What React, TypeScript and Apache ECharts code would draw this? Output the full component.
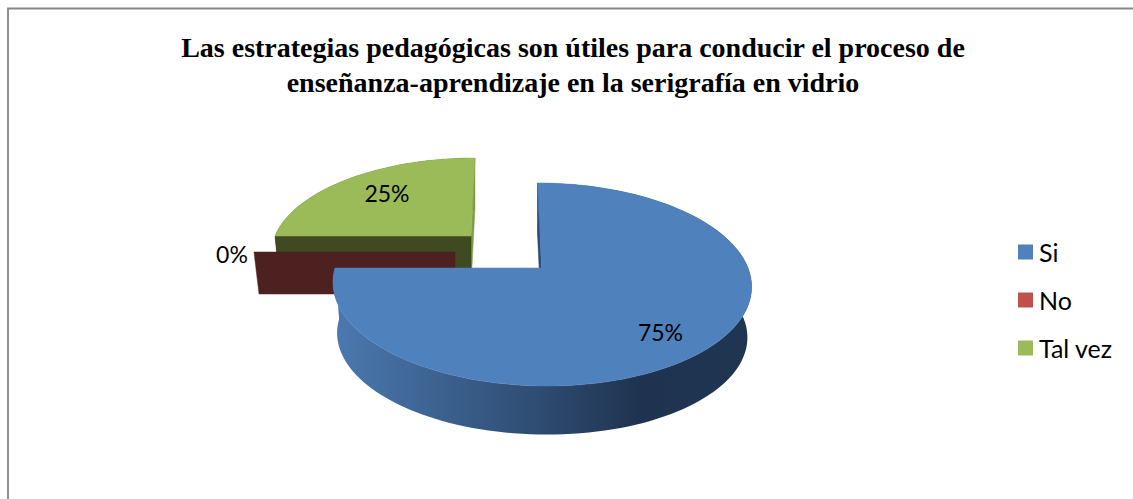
import React, { useEffect, useRef } from "react";
import * as echarts from "echarts";

const titleLines = [
  "Las estrategias pedagógicas son útiles para conducir el proceso de",
  "enseñanza-aprendizaje en la serigrafía en vidrio",
];
const categories = ["Si", "No", "Tal vez"];
const values = [75, 0, 25];
const topColors = ["#4f81bd", "#c0504d", "#9bbb59"];
const legendColors = ["#4f81bd", "#c0504d", "#9bbb59"];
const wallColors = ["#2a4a72", "#4d211f", "#3f4a21"];
const endWallColors = ["#2a4a72", "#4d211f", "#7f9c48"];
const paintOrder = [2, 1, 0];

// Perspective of each exploded slice: apex position, radii, shear, depth, label offset
const layout = [
  { x0: 541.5, y0: 268, R: 206.5, S: 98.8, k: 0.1626, a: 4.65, depth: 51, scale: 0.98, lx: 119, ly: 64 },
  { x0: 455, y0: 252, R: 201, S: 98.8, k: 0.1626, a: 0, depth: 42, scale: 0.975, lx: -223, ly: 2 },
  { x0: 471, y0: 236, R: 196, S: 90.7, k: 0.1626, a: -4.65, depth: 50, scale: 0.975, lx: -84, ly: -43 },
];

const total = values.reduce((a, b) => a + b, 0);
const LABEL_FONT = "Lato, 'Open Sans', sans-serif";

function project(i: number, deg: number, r: number, bottom: boolean): number[] {
  const p = layout[i];
  const t = (deg * Math.PI) / 180;
  const u = r * Math.sin(t);
  const v = -r * Math.cos(t);
  const w = 1 - p.k * v;
  const s = bottom ? p.scale : 1;
  return [
    p.x0 + (s * (p.R * u + p.a * v)) / w,
    p.y0 + (bottom ? p.depth : 0) + (s * p.S * v) / w,
  ];
}

function arcPoints(i: number, from: number, to: number, bottom: boolean): number[][] {
  const n = Math.max(1, Math.ceil(Math.abs(to - from) / 2));
  const pts: number[][] = [];
  for (let j = 0; j <= n; j++) pts.push(project(i, from + ((to - from) * j) / n, 1, bottom));
  return pts;
}

function makeRender(i: number) {
  const startValue = values.slice(0, i).reduce((a, b) => a + b, 0);
  return (_params: any, api: any) => {
    const value = api.value(0);
    const start = (startValue / total) * 360;
    const end = start + (value / total) * 360;
    const children: any[] = [];
    const wall = (deg: number, fill: string) => ({
      type: "polygon",
      silent: true,
      shape: {
        points: [
          project(i, 0, 0, false),
          project(i, deg, 1, false),
          project(i, deg, 1, true),
          project(i, 0, 0, true),
        ],
      },
      style: { fill, stroke: fill, lineWidth: 0.5 },
    });
    if (end > start) {
      const sideFill =
        i === 0
          ? new echarts.graphic.LinearGradient(
              338, 0, 745, 0,
              [
                { offset: 0, color: "#4a78ae" },
                { offset: 0.49, color: "#2f4c72" },
                { offset: 0.74, color: "#1f3350" },
                { offset: 1, color: "#1f3550" },
              ],
              true
            )
          : wallColors[i];
      children.push({
        type: "polygon",
        silent: true,
        shape: {
          points: [...arcPoints(i, start, end, false), ...arcPoints(i, end, start, true)],
        },
        style: { fill: sideFill },
      });
    }
    // a slice's closing wall faces the viewer only in the back half of the turn
    if (end > start && end % 360 < 180) children.push(wall(end, endWallColors[i]));
    children.push(wall(start, wallColors[i]));
    if (end > start) {
      const top = topColors[i];
      children.push({
        type: "polygon",
        silent: true,
        shape: { points: [project(i, 0, 0, false), ...arcPoints(i, start, end, false)] },
        style: { fill: top, stroke: top, lineWidth: 0.5 },
      });
    }
    children.push({
      type: "text",
      silent: true,
      style: {
        text: `${Math.round((value / total) * 100)}%`,
        x: layout[i].x0 + layout[i].lx,
        y: layout[i].y0 + layout[i].ly,
        textAlign: "center",
        textVerticalAlign: "middle",
        fontSize: 23,
        fontFamily: LABEL_FONT,
        fill: "#000000",
      },
    });
    return { type: "group", children };
  };
}

export default function App() {
  const ref = useRef<HTMLDivElement>(null);
  useEffect(() => {
    const chart = echarts.init(ref.current!, undefined, { renderer: "svg" });
    chart.setOption({
      animation: false,
      backgroundColor: "#ffffff",
      title: {
        text: titleLines.join("\n"),
        left: 568,
        top: 25,
        textAlign: "center",
        textStyle: {
          fontFamily: "'Liberation Serif', serif",
          fontWeight: "bold",
          fontSize: 28,
          lineHeight: 35,
          color: "#000000",
        },
      },
      legend: {
        orient: "vertical",
        left: 1013,
        top: 234.5,
        itemWidth: 15,
        itemHeight: 15,
        itemGap: 23,
        icon: "rect",
        data: categories,
        selectedMode: false,
        textStyle: { fontFamily: LABEL_FONT, fontSize: 25, color: "#000000", padding: [0, 0, 0, 1] },
      },
      graphic: [
        {
          type: "polyline",
          silent: true,
          shape: { points: [[8, 499], [8, 8.5], [1133, 8.5]] },
          style: { stroke: "#868686", lineWidth: 1.8, fill: "none" },
        },
      ],
      series: paintOrder.map((i) => ({
        type: "custom",
        name: categories[i],
        coordinateSystem: "none",
        silent: true,
        itemStyle: { color: legendColors[i] },
        data: [[values[i]]],
        renderItem: makeRender(i),
      })),
    });
    return () => chart.dispose();
  }, []);
  return (
    <div
      ref={ref}
      style={{ position: "absolute", left: 0, top: 0, width: 1133, height: 499, overflow: "hidden" }}
    />
  );
}
